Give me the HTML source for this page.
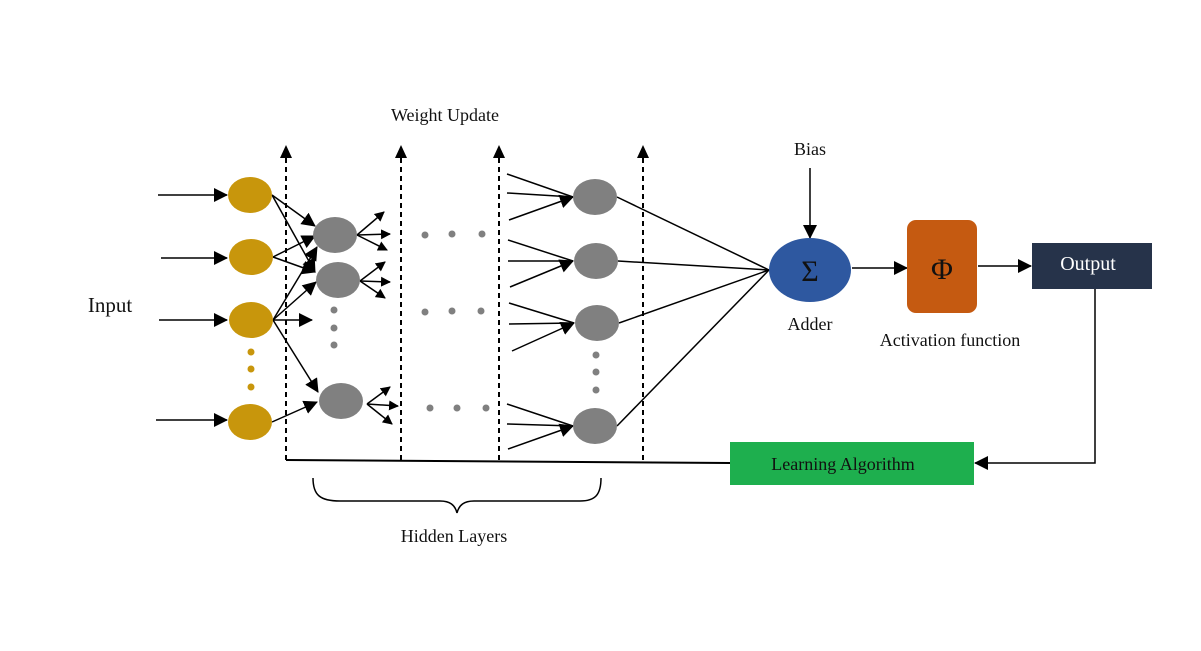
<!DOCTYPE html>
<html><head><meta charset="utf-8"><style>
html,body{margin:0;padding:0;background:#fff;}
svg{display:block;}
text{font-family:"Liberation Serif",serif;}
</style></head><body>
<svg width="1201" height="651" viewBox="0 0 1201 651" xmlns="http://www.w3.org/2000/svg">
<defs>
<marker id="a" markerWidth="10" markerHeight="10" refX="9" refY="5" orient="auto" markerUnits="userSpaceOnUse"><path d="M0,0 L10,5 L0,10 z" fill="#000"/></marker>
<marker id="b" markerWidth="14" markerHeight="14" refX="13" refY="7" orient="auto" markerUnits="userSpaceOnUse"><path d="M0,0 L14,7 L0,14 z" fill="#000"/></marker>
</defs>
<g stroke="#000" stroke-width="1.5" fill="none">
<g stroke-dasharray="5,4" stroke-width="2">
<line x1="286" y1="158" x2="286" y2="460"/>
<line x1="401" y1="158" x2="401" y2="460"/>
<line x1="499" y1="158" x2="499" y2="460"/>
<line x1="643" y1="158" x2="643" y2="462"/>
</g>
<line x1="286" y1="460" x2="730" y2="463" stroke-width="2"/>
<line x1="158" y1="195" x2="227" y2="195" marker-end="url(#b)"/>
<line x1="161" y1="258" x2="227" y2="258" marker-end="url(#b)"/>
<line x1="159" y1="320" x2="227" y2="320" marker-end="url(#b)"/>
<line x1="156" y1="420" x2="227" y2="420" marker-end="url(#b)"/>
<line x1="272" y1="195" x2="315" y2="226" marker-end="url(#b)"/>
<line x1="272" y1="195" x2="315" y2="272" marker-end="url(#b)"/>
<line x1="273" y1="257" x2="315" y2="236" marker-end="url(#b)"/>
<line x1="273" y1="257" x2="315" y2="272" marker-end="url(#b)"/>
<line x1="273" y1="320" x2="317" y2="247" marker-end="url(#b)"/>
<line x1="273" y1="320" x2="316" y2="282" marker-end="url(#b)"/>
<line x1="273" y1="320" x2="312" y2="320" marker-end="url(#b)"/>
<line x1="273" y1="320" x2="318" y2="392" marker-end="url(#b)"/>
<line x1="272" y1="422" x2="317" y2="402" marker-end="url(#b)"/>
<line x1="357" y1="235" x2="384" y2="212" marker-end="url(#a)"/>
<line x1="357" y1="235" x2="390" y2="234" marker-end="url(#a)"/>
<line x1="357" y1="235" x2="387" y2="250" marker-end="url(#a)"/>
<line x1="360" y1="281" x2="385" y2="262" marker-end="url(#a)"/>
<line x1="360" y1="281" x2="390" y2="282" marker-end="url(#a)"/>
<line x1="360" y1="281" x2="385" y2="298" marker-end="url(#a)"/>
<line x1="367" y1="404" x2="390" y2="387" marker-end="url(#a)"/>
<line x1="367" y1="404" x2="398" y2="406" marker-end="url(#a)"/>
<line x1="367" y1="404" x2="392" y2="424" marker-end="url(#a)"/>
<g>
<line x1="507" y1="174" x2="573" y2="197"/><line x1="507" y1="193" x2="573" y2="197"/><line x1="509" y1="220" x2="573" y2="197" marker-end="url(#b)"/>
<line x1="508" y1="240" x2="573" y2="261"/><line x1="508" y1="261" x2="573" y2="261"/><line x1="510" y1="287" x2="573" y2="261" marker-end="url(#b)"/>
<line x1="509" y1="303" x2="574" y2="323"/><line x1="509" y1="324" x2="574" y2="323"/><line x1="512" y1="351" x2="574" y2="323" marker-end="url(#b)"/>
<line x1="507" y1="404" x2="573" y2="426"/><line x1="507" y1="424" x2="573" y2="426"/><line x1="508" y1="449" x2="573" y2="426" marker-end="url(#b)"/>
</g>
<line x1="617" y1="197" x2="769" y2="270"/>
<line x1="618" y1="261" x2="769" y2="270"/>
<line x1="619" y1="323" x2="769" y2="270"/>
<line x1="617" y1="426" x2="769" y2="270"/>
<line x1="810" y1="168" x2="810" y2="238" marker-end="url(#b)"/>
<line x1="852" y1="268" x2="907" y2="268" marker-end="url(#b)"/>
<line x1="978" y1="266" x2="1031" y2="266" marker-end="url(#b)"/>
<polyline points="1095,289 1095,463 975,463" marker-end="url(#b)"/>
<path d="M313,478 C313,495 320,501 340,501 L440,501 C450,501 455,505 457,513 C459,505 464,501 474,501 L580,501 C595,501 601,495 601,478" stroke-width="1.5"/>
</g>
<g fill="#000">
<path d="M280,158 L286,145 L292,158 z"/>
<path d="M395,158 L401,145 L407,158 z"/>
<path d="M493,158 L499,145 L505,158 z"/>
<path d="M637,158 L643,145 L649,158 z"/>
</g>
<g fill="#c8960c">
<ellipse cx="250" cy="195" rx="22" ry="18"/>
<ellipse cx="251" cy="257" rx="22" ry="18"/>
<ellipse cx="251" cy="320" rx="22" ry="18"/>
<ellipse cx="250" cy="422" rx="22" ry="18"/>
<circle cx="251" cy="352" r="3.5"/><circle cx="251" cy="369" r="3.5"/><circle cx="251" cy="387" r="3.5"/>
</g>
<g fill="#808080">
<ellipse cx="335" cy="235" rx="22" ry="18"/>
<ellipse cx="338" cy="280" rx="22" ry="18"/>
<ellipse cx="341" cy="401" rx="22" ry="18"/>
<circle cx="334" cy="310" r="3.5"/><circle cx="334" cy="328" r="3.5"/><circle cx="334" cy="345" r="3.5"/>
<ellipse cx="595" cy="197" rx="22" ry="18"/>
<ellipse cx="596" cy="261" rx="22" ry="18"/>
<ellipse cx="597" cy="323" rx="22" ry="18"/>
<ellipse cx="595" cy="426" rx="22" ry="18"/>
<circle cx="596" cy="355" r="3.5"/><circle cx="596" cy="372" r="3.5"/><circle cx="596" cy="390" r="3.5"/>
<circle cx="425" cy="235" r="3.5"/><circle cx="452" cy="234" r="3.5"/><circle cx="482" cy="234" r="3.5"/>
<circle cx="425" cy="312" r="3.5"/><circle cx="452" cy="311" r="3.5"/><circle cx="481" cy="311" r="3.5"/>
<circle cx="430" cy="408" r="3.5"/><circle cx="457" cy="408" r="3.5"/><circle cx="486" cy="408" r="3.5"/>
</g>
<ellipse cx="810" cy="270" rx="41" ry="32" fill="#2e58a0"/>
<text x="810" y="281" font-size="30" text-anchor="middle" fill="#111">Σ</text>
<rect x="907" y="220" width="70" height="93" rx="9" fill="#c55a11"/>
<text x="942" y="279" font-size="30" text-anchor="middle" fill="#111">Φ</text>
<rect x="1032" y="243" width="120" height="46" fill="#26334a"/>
<text x="1088" y="270" font-size="20" text-anchor="middle" fill="#fff">Output</text>
<rect x="730" y="442" width="244" height="43" fill="#1eaf4e"/>
<text x="843" y="470" font-size="18" text-anchor="middle" fill="#111">Learning Algorithm</text>
<text x="445" y="121" font-size="18" text-anchor="middle" fill="#111">Weight Update</text>
<text x="810" y="155" font-size="18" text-anchor="middle" fill="#111">Bias</text>
<text x="810" y="330" font-size="18" text-anchor="middle" fill="#111">Adder</text>
<text x="950" y="346" font-size="18" text-anchor="middle" fill="#111">Activation function</text>
<text x="110" y="312" font-size="21" text-anchor="middle" fill="#111">Input</text>
<text x="454" y="542" font-size="18" text-anchor="middle" fill="#111">Hidden Layers</text>
</svg>
</body></html>
